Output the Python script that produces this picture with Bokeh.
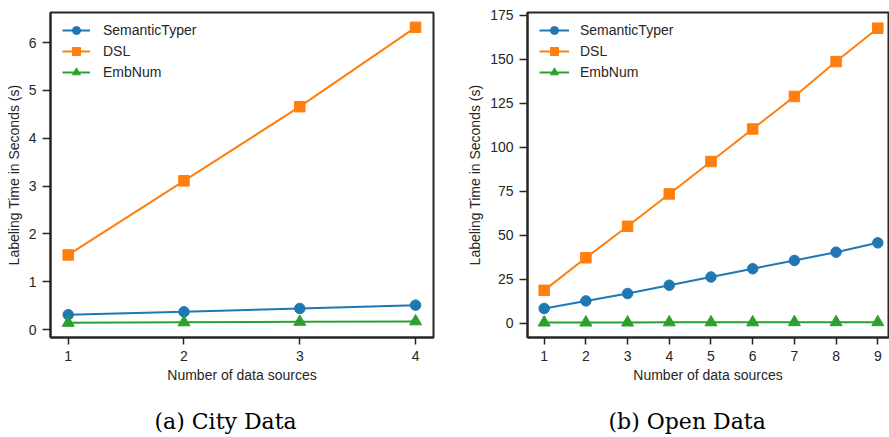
from bokeh.plotting import figure
from bokeh.layouts import row
from bokeh.models import Range1d, FixedTicker, Legend, LegendItem, Title
from bokeh.embed import file_html
from bokeh.resources import INLINE

# ---- data ----
series_names = ["SemanticTyper", "DSL", "EmbNum"]

city_x = [1, 2, 3, 4]
city_semantic = [0.31, 0.37, 0.44, 0.51]
city_dsl = [1.56, 3.11, 4.66, 6.32]
city_embnum = [0.14, 0.15, 0.16, 0.17]
city_yticks = [0, 1, 2, 3, 4, 5, 6]

open_x = [1, 2, 3, 4, 5, 6, 7, 8, 9]
open_semantic = [8.5, 12.8, 17.0, 21.7, 26.4, 31.1, 35.8, 40.5, 45.8]
open_dsl = [18.8, 37.3, 55.2, 73.6, 92.0, 110.5, 129.0, 148.8, 167.8]
open_embnum = [0.5, 0.5, 0.5, 0.6, 0.6, 0.6, 0.7, 0.7, 0.7]
open_yticks = [0, 25, 50, 75, 100, 125, 150, 175]

captions = ["(a) City Data", "(b) Open Data"]

COLORS = ["#1f77b4", "#ff7f0e", "#2ca02c"]
MARKERS = ["circle", "square", "triangle"]
SIZES = [10.5, 10.5, 12]
INK = "#262626"
SANS = "Liberation Sans"
H = 437
FRAME_TOP = 12
FRAME_H = 325


def make_fig(x, ys, xr, yr, yticks, width, mbl, mbr, caption, cap_offset, gw, so):
    p = figure(width=width, height=H, x_range=Range1d(*xr), y_range=Range1d(*yr),
               output_backend="svg", toolbar_location=None,
               min_border_left=mbl, min_border_right=mbr,
               min_border_top=FRAME_TOP, min_border_bottom=H - FRAME_TOP - FRAME_H)
    p.background_fill_color = "white"
    p.border_fill_color = "white"
    p.grid.visible = False
    p.outline_line_color = INK
    p.outline_line_width = 2
    p.outline_line_alpha = 1.0

    for ax in (p.xaxis[0], p.yaxis[0]):
        ax.axis_line_color = INK
        ax.axis_line_width = 2
        ax.major_tick_line_color = INK
        ax.major_tick_line_width = 1.5
        ax.major_tick_in = 0
        ax.minor_tick_line_color = None
        ax.major_label_text_font = SANS
        ax.major_label_text_font_size = "14px"
        ax.major_label_text_color = INK
        ax.axis_label_text_font = SANS
        ax.axis_label_text_font_size = "14px"
        ax.axis_label_text_font_style = "normal"
        ax.axis_label_text_color = INK
    p.xaxis[0].major_tick_out = 7
    p.yaxis[0].major_tick_out = 8
    p.xaxis[0].ticker = FixedTicker(ticks=x)
    p.yaxis[0].ticker = FixedTicker(ticks=yticks)
    p.xaxis[0].major_label_standoff = 6
    p.yaxis[0].major_label_standoff = 6
    p.xaxis[0].axis_label_standoff = 3
    p.yaxis[0].axis_label_standoff = 4
    p.xaxis[0].axis_label = "Number of data sources"
    p.yaxis[0].axis_label = "Labeling Time in Seconds (s)"

    items = []
    for name, yv, c, m, s in zip(series_names, ys, COLORS, MARKERS, SIZES):
        ln = p.line(x, yv, line_color=c, line_width=2)
        sc = p.scatter(x, yv, marker=m, size=s, fill_color=c, line_color=c)
        items.append(LegendItem(label=name, renderers=[ln, sc]))

    leg = Legend(items=items, location=(12, FRAME_H - 8 - 62), margin=0, padding=0,
                 spacing=1, glyph_width=gw, glyph_height=20, label_height=20,
                 label_standoff=so, label_text_font=SANS, label_text_font_size="14px",
                 label_text_color=INK, border_line_color=None,
                 background_fill_alpha=0.0)
    p.add_layout(leg, "center")

    # spacer panel between the axis and the caption
    p.add_layout(Title(text=" ", standoff=15, text_font_size="2px"), "below")
    p.add_layout(Title(text=caption, align="left", offset=cap_offset, standoff=4,
                       text_font="DejaVu Serif", text_font_size="22px",
                       text_font_style="normal", text_color="black"), "below")
    return p


p1 = make_fig(city_x, [city_semantic, city_dsl, city_embnum], (0.847, 4.155), (-0.167, 6.63),
              city_yticks, 445, 50, 12, captions[0], 104, 28, 13)
p2 = make_fig(open_x, [open_semantic, open_dsl, open_embnum], (0.6, 9.257), (-8.0, 176.7),
              open_yticks, 444, 82, 1, captions[1], 81, 30, 11)

layout = row(p1, p2)
open("out.html", "w").write(file_html(layout, INLINE))
